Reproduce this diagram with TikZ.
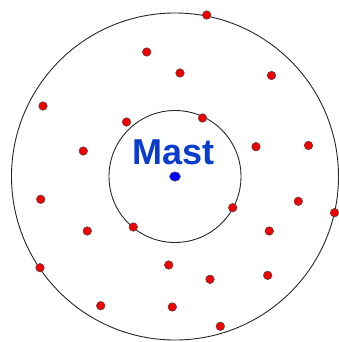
\documentclass[tikz,border=0pt]{standalone}
\usepackage{fontspec}
\setmainfont{Liberation Sans}
\usetikzlibrary{shapes.geometric}
\definecolor{mastblue}{RGB}{10,60,205}
\definecolor{dotred}{RGB}{240,0,0}
\begin{document}
\begin{tikzpicture}[x=1pt,y=-1pt,
  ring/.style={draw=black!85,line width=0.9pt},
  reddot/.style={circle,draw=black!70,fill=dotred,line width=0.5pt,minimum size=8.6pt,inner sep=0pt},
  bluedot/.style={ellipse,draw=black!60,fill=blue,line width=0.5pt,minimum width=11pt,minimum height=9.5pt,inner sep=0pt}]
\useasboundingbox (0,0) rectangle (338,342);
\coordinate (c) at (175,176.5);
\draw[ring] (c) circle[radius=163.5];
\draw[ring] (c) circle[radius=66];
\node[font=\bfseries\fontsize{36}{36}\selectfont,text=mastblue,anchor=base] (mast) at (173.5,164.5) {Mast};
\node[bluedot] (m) at (c) {};
\foreach \x/\y [count=\i] in {206.7/15,146.7/52,180/73,271.5/75.5,43/106,126.5/122,202.5/118,83.3/151,256/146.7,308.5/145.5,40.7/199.3,298.3/201.3,334.5/212.7,232.7/207.7,87.3/231,133.3/227,269.3/231,40/267.7,168.7/265,210/279.3,267.7/275.3,100.7/305.7,172.3/307,220.3/326.3}
  \node[reddot] (p\i) at (\x,\y) {};
\end{tikzpicture}
\end{document}
